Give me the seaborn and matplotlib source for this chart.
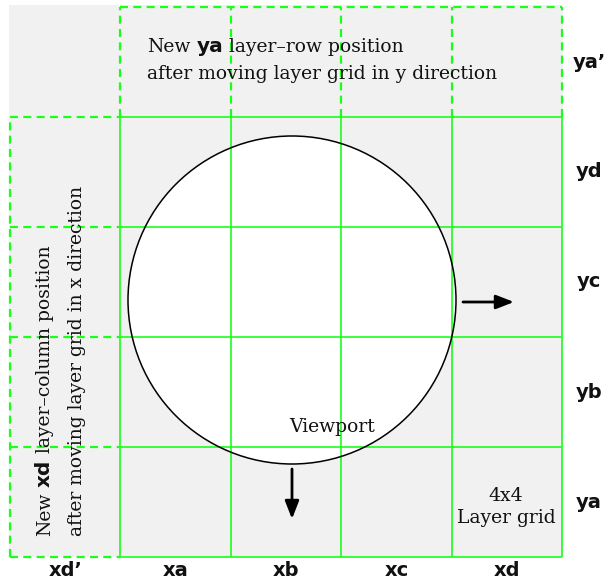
import matplotlib
matplotlib.use("Agg")
import matplotlib.pyplot as plt
from matplotlib.patches import Rectangle, Ellipse
import seaborn as sns

# ---- content ----
col_labels = ["xd\u2019", "xa", "xb", "xc", "xd"]      # columns -1 .. 3 (left to right)
row_labels = ["ya", "yb", "yc", "yd", "ya\u2019"]      # rows 0 .. 4 (bottom to top)
grid_size = 4                                           # 4x4 layer grid
top_pieces = [("New", "serif"), ("ya", "bold"), ("layer\u2013row position", "serif")]
top_text2 = "after moving layer grid in y direction"
left_pieces = [("New", "serif"), ("xd", "bold"), ("layer\u2013column position", "serif")]
left_text2 = "after moving layer grid in x direction"
viewport_label = "Viewport"
grid_label = "4x4\nLayer grid"

sns.set_theme(style="white")
plt.rcParams["font.family"] = ["DejaVu Serif"]

W, H = 614, 580
fig = plt.figure(figsize=(W / 100, H / 100), dpi=100)
ax = fig.add_axes([0, 0, 1, 1])
X0, Y0, CW, CH = 120.5, 557.0, 110.4, 110.0
ax.set_xlim(-X0 / CW, (W - X0) / CW)
ax.set_ylim((Y0 - H) / CH, Y0 / CH)
ax.axis("off")


def px(x, y):
    return ((x - X0) / CW, (Y0 - y) / CH)


GREEN = "#1aff1a"
GRAY = "#f1f1f1"
SERIF = dict(family="DejaVu Serif", size=13.5, color="#111111")
BOLD = dict(family="DejaVu Sans", size=14, weight="bold", color="#111111")
BOLD_IN = dict(family="DejaVu Sans", size=14.5, weight="bold", color="#111111")
n = grid_size

# background
ax.add_patch(Rectangle((-1.01, 0), n + 1.02, n + 1.02, fc=GRAY, ec="none", zorder=0))

# viewport circle
cx, cy = px(292, 300)
ax.add_patch(Ellipse((cx, cy), 2 * 164 / CW, 2 * 164 / CH, fc="white", ec="none", zorder=1))

# main grid (solid)
for i in range(n + 1):
    ax.plot([i, i], [0, n], color=GREEN, lw=1.2, zorder=2, solid_capstyle="butt")
    ax.plot([0, n], [i, i], color=GREEN, lw=1.2, zorder=2, solid_capstyle="butt")

# shifted row (dashed, top)
dash = (0, (3.6, 2.4))
for i in range(n + 1):
    ax.plot([i, i], [n, n + 1], color=GREEN, lw=1.6, ls=dash, zorder=2)
ax.plot([0, n], [n + 1, n + 1], color=GREEN, lw=1.6, ls=dash, zorder=2)
# shifted column (dashed, left)
for j in range(n + 1):
    ax.plot([-1, 0], [j, j], color=GREEN, lw=1.6, ls=dash, zorder=2)
ax.plot([-1, -1], [0, n], color=GREEN, lw=1.6, ls=dash, zorder=2)

ax.add_patch(Ellipse((cx, cy), 2 * 164 / CW, 2 * 164 / CH, fc="none", ec="black", lw=1.1, zorder=3))

# arrows
ap = dict(arrowstyle="-|>,head_length=0.9,head_width=0.35", lw=2.0, color="black",
          shrinkA=0, shrinkB=0)
ax.annotate("", xy=px(514, 302), xytext=px(463, 302), arrowprops=ap, zorder=4)
ax.annotate("", xy=px(292, 519), xytext=px(292, 469), arrowprops=ap, zorder=4)

# axis-like labels
for k, lab in enumerate(col_labels):
    ax.text(k - 0.5, px(0, 571)[1], lab, ha="center", va="center", **BOLD)
for k, lab in enumerate(row_labels):
    ax.text(px(589, 0)[0], k + 0.5, lab, ha="center", va="center", **BOLD)

# inner labels
ax.text(*px(332, 427), viewport_label, ha="center", va="center", zorder=5, **SERIF)
ax.text(*px(506, 507), grid_label, ha="center", va="center", linespacing=1.35, zorder=5, **SERIF)

fig.canvas.draw()
renderer = fig.canvas.get_renderer()
inv = ax.transData.inverted()
space = 6.0

x, y = px(147, 52)
for txt, kind in top_pieces:
    style = SERIF if kind == "serif" else BOLD_IN
    t = ax.text(x, y, txt, ha="left", va="baseline", zorder=5, **style)
    bb = t.get_window_extent(renderer)
    x = inv.transform((bb.x1 + space, 0))[0]
ax.text(*px(147, 79), top_text2, ha="left", va="baseline", zorder=5, **SERIF)

x, y = px(50, 536)
for txt, kind in left_pieces:
    style = SERIF if kind == "serif" else BOLD_IN
    t = ax.text(x, y, txt, rotation=90, rotation_mode="anchor", ha="left",
                va="baseline", zorder=5, **style)
    bb = t.get_window_extent(renderer)
    y = inv.transform((0, bb.y1 + space))[1]
ax.text(*px(82, 536), left_text2, rotation=90, rotation_mode="anchor", ha="left",
        va="baseline", zorder=5, **SERIF)

fig.savefig("out.png", dpi=100, facecolor="white")
